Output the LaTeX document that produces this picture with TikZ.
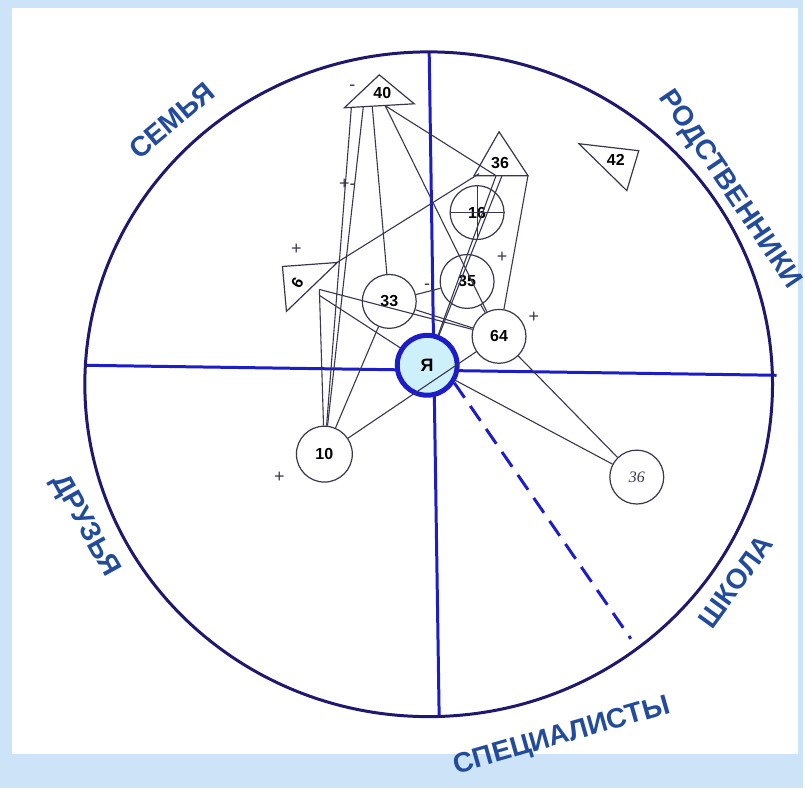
\documentclass[tikz,border=0pt]{standalone}
\usepackage{fontspec}
\setmainfont{Liberation Sans}
\newfontfamily\handfont{Liberation Serif}
\usetikzlibrary{positioning}
\definecolor{bgblue}{RGB}{205,227,247}
\definecolor{axisblue}{RGB}{28,28,200}
\definecolor{rimnavy}{RGB}{30,25,110}
\definecolor{lbl}{RGB}{35,75,155}
\definecolor{selffill}{RGB}{205,240,250}
\definecolor{ink}{RGB}{55,55,80}

\begin{document}
\begin{tikzpicture}[x=0.5pt, y=-0.5pt,
  pal/.style={draw=ink, line width=0.6pt, circle, minimum size=27pt, inner sep=0pt, font=\bfseries\fontsize{8}{8}\selectfont},
  tri/.style={draw=ink, line width=0.6pt},
  link/.style={draw=ink, line width=0.55pt},
  sector/.style={text=lbl, font=\bfseries\fontsize{14}{14}\selectfont, inner sep=0pt},
  sign/.style={text=ink, font=\fontsize{9}{9}\selectfont, inner sep=0pt},
  num/.style={font=\bfseries\fontsize{8}{8}\selectfont, inner sep=0pt}
]
\fill[bgblue] (0,0) rectangle (805,790);
\fill[white] (12,8) rectangle (800,755);

% axes and field
\coordinate (hl) at (85,366);
\coordinate (hr) at (778,376);
\coordinate (vt) at (430,52);
\coordinate (vb) at (440,718);
\draw[axisblue, line width=1.5pt] (hl) -- (hr);
\draw[axisblue, line width=1.5pt] (vt) -- (vb);
\draw[rimnavy, line width=1.5pt] (429.5,385) ellipse [x radius=344.5, y radius=333];

% sectors
\node[sector, rotate=40] (fam) at (172,121) {СЕМЬЯ};
\node[sector, rotate=-56] (rel) at (731,190) {РОДСТВЕННИКИ};
\node[sector, rotate=-61] (frd) at (85,527) {ДРУЗЬЯ};
\node[sector, rotate=54] (sch) at (737,583) {ШКОЛА};
\node[sector, rotate=16] (spc) at (563,738) {СПЕЦИАЛИСТЫ};

% self
\node[draw=axisblue, fill=selffill, line width=2.5pt, circle, minimum size=30pt, inner sep=0pt, font=\bfseries\fontsize{9}{9}\selectfont] (me) at (428,366) {Я};

% circles
\node[pal] (p33) at (390,302) {33};
\node[pal] (p35) at (468,282) {35};
\node[pal] (p16) at (478,213) {16};
\node[pal] (p64) at (500,337) {64};
\node[pal, minimum size=28pt] (p10) at (325,455) {10};
\node[pal, text=ink, font=\handfont\itshape\fontsize{8}{8}\selectfont] (p36) at (638,478) {36};
\draw[link] (p16.north) -- (p16.south);
\draw[link] (p16.west) -- (p16.east);

% triangles
\draw[tri] (380,75) -- (415,104) -- (345,108) -- cycle;
\node[num] (n40) at (383,93) {40};
\draw[tri] (500,132) -- (529,176) -- (475,176) -- cycle;
\node[num] (n36) at (501,163) {36};
\draw[tri] (580,144) -- (640,151) -- (628,191) -- cycle;
\node[num] (n42) at (617,160) {42};
\draw[tri] (283,267) -- (338,263) -- (287,312) -- cycle;
\node[num, rotate=60] (n6) at (298,283) {6};

\coordinate (r40a) at (352,108);
\coordinate (r40b) at (364,107);
\coordinate (r40c) at (373,107);
\coordinate (r40d) at (386,106);
\coordinate (r36l) at (480,174);
\coordinate (r36m) at (497,176);
\coordinate (r36n) at (503,176);
\coordinate (r36r) at (529,176);
\coordinate (r6b) at (336,264);
\coordinate (r6c) at (320,290);
\coordinate (r6d) at (320,296);

% signs
\node[sign] (s1) at (353,88) {-};
\node[sign] (s2) at (348,185) {+-};
\node[sign] (s3) at (297,250) {+};
\node[sign] (s4) at (503,258) {+};
\node[sign] (s5) at (535,318) {+};
\node[sign] (s6) at (280,478) {+};
\node[sign] (s7) at (428,287) {-};

\foreach \a/\b in {r40a/p10, r40b/p10, r40c/p33, r40d/r36m, r40d/p64,
  r36l/r6b, r36r/p64, r36m/me, r36n/me, r6c/p10, r6c/p64, r6d/me,
  p10/p33, p10/p64, p33/p35, p33/p64, p35/p64, p64/p36, me/p36}
  \draw[link] (\a) -- (\b);

\coordinate (dend) at (632,640);
\draw[axisblue, line width=1.5pt, dash pattern=on 9pt off 5pt] (me.-33) -- (dend);
\end{tikzpicture}
\end{document}
